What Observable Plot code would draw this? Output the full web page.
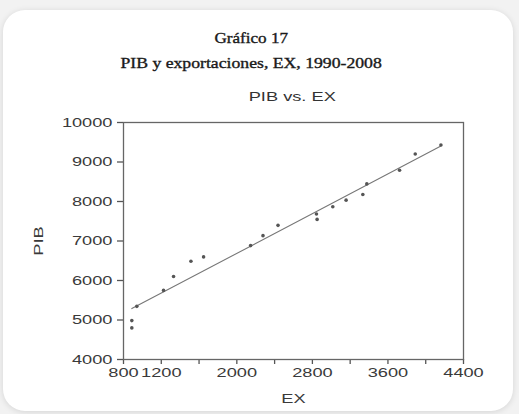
<!DOCTYPE html>
<html>
<head>
<meta charset="utf-8">
<script src="https://cdn.jsdelivr.net/npm/d3@7"></script>
<script src="https://cdn.jsdelivr.net/npm/@observablehq/plot@0.6"></script>
<style>
  html, body { margin: 0; padding: 0; }
  body { width: 519px; height: 414px; background: #f2f2f2; position: relative; overflow: hidden; }
  #card { position: absolute; left: 3px; top: 10px; width: 510px; height: 401px; background: #fff; border-radius: 22px; box-shadow: 0 1px 6px rgba(0,0,0,0.12); }
  .t { position: absolute; left: 0; width: 502px; text-align: center; white-space: nowrap; line-height: 1; color: #1a1a1a; }
  .serif { font-family: "Liberation Serif", "Times New Roman", serif; font-weight: normal; font-size: 14.5px; -webkit-text-stroke: 0.35px #1a1a1a; }
  .sans { font-family: "Liberation Sans", Arial, sans-serif; font-size: 13.5px; color: #333; }
  #chart { position: absolute; left: 0; top: 0; }
</style>
</head>
<body>
<div id="card"></div>
<div class="t serif" id="t1" style="top:31.2px;"><span style="display:inline-block;transform:scaleX(1.18);">Gráfico 17</span></div>
<div class="t serif" id="t2" style="top:56.2px;"><span style="display:inline-block;transform:scaleX(1.22);">PIB y exportaciones, EX, 1990-2008</span></div>
<div class="t sans" id="t3" style="top:90.3px;left:41px;"><span style="display:inline-block;transform:scaleX(1.35);">PIB vs. EX</span></div>
<div id="chart"></div>
<script>
// Data (1990-2008)
const ex  = [888, 888, 941, 1224, 1330, 1514, 1648, 2146, 2277, 2436, 2843, 2850, 3016, 3157, 3334, 3376, 3723, 3889, 4161];
const pib = [4985, 4800, 5346, 5750, 6102, 6489, 6598, 6884, 7136, 7396, 7682, 7547, 7866, 8034, 8177, 8446, 8790, 9202, 9429];

const xTickValues = [800, 1200, 1600, 2000, 2400, 2800, 3200, 3600, 4000, 4400];
const xTickLabels = ["800", "1200", "", "2000", "", "2800", "", "3600", "", "4400"];
const yTickValues = [4000, 5000, 6000, 7000, 8000, 9000, 10000];
const yTickLabels = ["4000", "5000", "6000", "7000", "8000", "9000", "10000"];

const data = ex.map((x, i) => ({EX: x, PIB: pib[i]}));

const chart = Plot.plot({
  width: 519,
  height: 414,
  marginLeft: 123,
  marginRight: 56,
  marginTop: 122,
  marginBottom: 55,
  style: { fontFamily: "Liberation Sans, Arial, sans-serif", fontSize: "13.5px", color: "#3a3a3a", background: "transparent", overflow: "visible" },
  x: {
    domain: [800, 4400],
    ticks: xTickValues,
    tickFormat: d => xTickLabels[xTickValues.indexOf(d)],
    tickSize: 5,
    tickPadding: 3,
    label: "EX",
    labelArrow: "none",
    labelAnchor: "center",
    labelOffset: 43
  },
  y: {
    domain: [4000, 10000],
    ticks: yTickValues,
    tickFormat: d => yTickLabels[yTickValues.indexOf(d)],
    tickSize: 6,
    tickPadding: 5,
    label: "PIB",
    labelArrow: "none",
    labelAnchor: "center",
    labelOffset: 90
  },
  marks: [
    Plot.frame({ stroke: "#666", strokeWidth: 1.3 }),
    Plot.linearRegressionY(data, { x: "EX", y: "PIB", stroke: "#777", strokeWidth: 1.1, ci: 0 }),
    Plot.dot(data, { x: "EX", y: "PIB", r: 1.8, fill: "#555", stroke: "none" })
  ]
});

// stretch the sans labels horizontally, like the reference's wide lettering
chart.querySelectorAll('g[aria-label$="tick label"] text, g[aria-label$="axis label"] text').forEach(t => {
  t.textContent = t.textContent.replace(/\s*[→↑←↓]\s*/g, "");
  const tr = t.getAttribute("transform") || "";
  t.setAttribute("transform", tr + " scale(1.35,1)");
});
chart.querySelectorAll('g[aria-label$="tick"] path, g[aria-label$="tick"] line').forEach(p => {
  p.setAttribute("stroke", "#555");
  p.setAttribute("stroke-width", "1.3");
});

document.getElementById("chart").appendChild(chart);
</script>
</body>
</html>
